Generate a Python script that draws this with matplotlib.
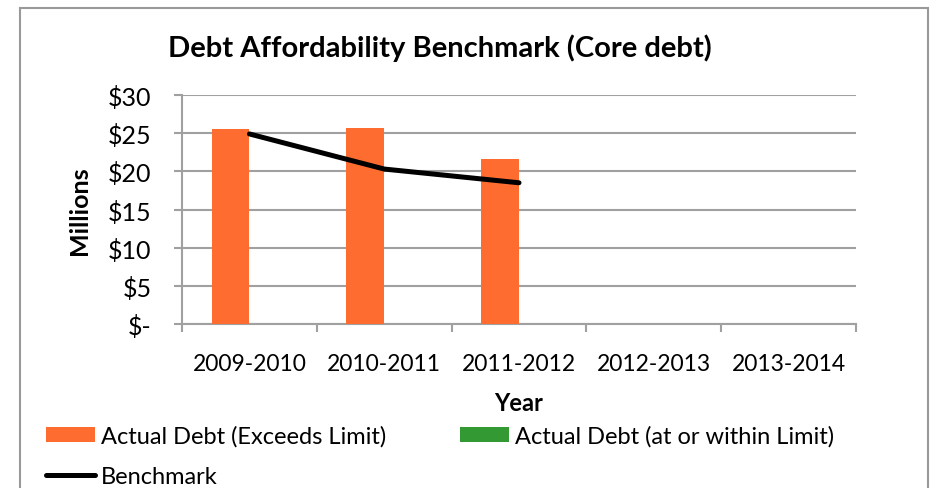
import numpy as np
import matplotlib
matplotlib.use("Agg")
import matplotlib.pyplot as plt
from matplotlib.patches import Rectangle

plt.rcParams['font.family'] = ['Lato', 'DejaVu Sans']

years = ["2009-2010", "2010-2011", "2011-2012", "2012-2013", "2013-2014"]
exceeds = [25.5, 25.7, 21.6, np.nan, np.nan]
within = [0, 0, 0, np.nan, np.nan]
benchmark = [24.9, 20.3, 18.5, np.nan, np.nan]
yticks = [0, 5, 10, 15, 20, 25, 30]
ylabels = ["$-", "$5", "$10", "$15", "$20", "$25", "$30"]

orange = "#FF6C2F"
green = "#339933"
grid_c = "#A0A0A0"

fig = plt.figure(figsize=(9.34, 4.89), dpi=100)
# outer chart frame (cut off at the bottom, as in the source)
fig.patches.append(Rectangle((20 / 934, -0.1), 908 / 934, 1.1 - 9 / 489,
                             transform=fig.transFigure, fill=False,
                             edgecolor="#999999", linewidth=1.5))

ax = fig.add_axes([182 / 934, 1 - 325 / 489, 674 / 934, 229 / 489])
x = np.arange(len(years))
w = 0.28
b1 = ax.bar(x - w / 2, exceeds, w, color=orange, label="Actual Debt (Exceeds Limit)", zorder=3)
b2 = ax.bar(x + w / 2, within, w, color=green, label="Actual Debt (at or within Limit)", zorder=3)
l1, = ax.plot(x, benchmark, color="black", linewidth=3.6, label="Benchmark", zorder=4,
              solid_capstyle="round")

ax.set_xlim(-0.5, len(years) - 0.5)
ax.set_ylim(0, 30)
ax.set_yticks(yticks)
ax.set_yticklabels(ylabels, fontsize=18)
ax.set_xticks(x)
ax.set_xticklabels(years, fontsize=16.5)
ax.tick_params(axis="x", length=0, pad=21)
ax.set_xticks(np.arange(-0.5, len(years)), minor=True)
ax.tick_params(axis="x", which="minor", length=6, width=1.5, color=grid_c)
ax.tick_params(axis="y", length=6, width=1.5, color=grid_c, pad=16)
ax.yaxis.grid(True, color=grid_c, linewidth=1.5, zorder=0)
for s in ["top", "right"]:
    ax.spines[s].set_visible(False)
for s in ["left", "bottom"]:
    ax.spines[s].set_color(grid_c)
    ax.spines[s].set_linewidth(1.5)

ax.set_xlabel("Year", fontsize=17, fontweight="bold", labelpad=12)
ax.set_ylabel("Millions", fontsize=18, fontweight="bold", labelpad=12)
fig.text(0.471, 0.902, "Debt Affordability Benchmark (Core debt)", fontsize=21,
         fontweight="bold", ha="center", va="center")

fig.legend([b1, l1, b2], [b1.get_label(), l1.get_label(), b2.get_label()],
           ncol=2, loc="upper left", bbox_to_anchor=(0.0493, 0.129), frameon=False,
           fontsize=17, handlelength=2.08, handleheight=0.6, handletextpad=0.25,
           columnspacing=3.1, labelspacing=0.82, borderpad=0, borderaxespad=0)

fig.savefig("out.png", dpi=100)
